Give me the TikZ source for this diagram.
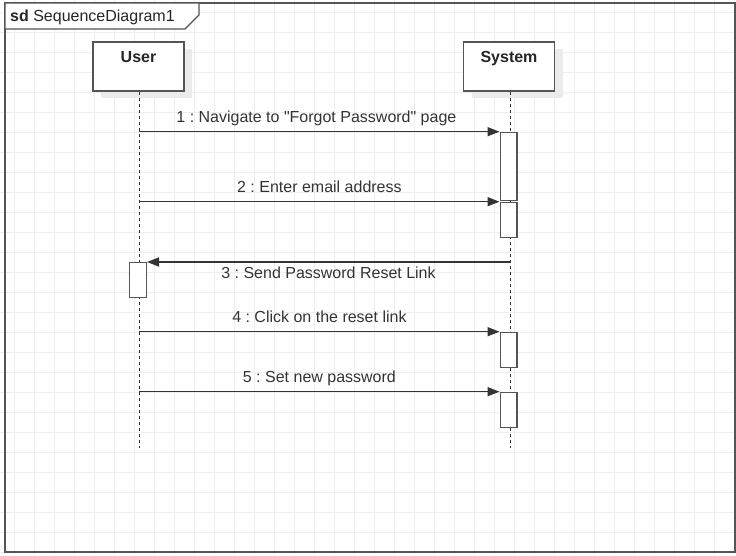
\documentclass[tikz,border=0pt]{standalone}
\usepackage{fontspec}
\setmainfont{Liberation Sans}[Ligatures=TeXOff]
\usetikzlibrary{arrows.meta,shadows}
\frenchspacing
\definecolor{ink}{HTML}{333333}
\definecolor{edgec}{HTML}{555555}
\definecolor{gridc}{HTML}{EEEEEE}
\definecolor{shade}{HTML}{EBEBEB}
\tikzset{
  actorbox/.style={draw=edgec, fill=white, line width=1.4pt, minimum width=91pt, minimum height=49pt, inner sep=0pt,
    drop shadow={shadow xshift=8pt, shadow yshift=-7pt, fill=shade, opacity=1}},
  actlabel/.style={anchor=center, yshift=-15pt, font=\fontsize{16}{19}\selectfont\bfseries, text=black!85, text height=11.5pt, text depth=0pt, inner sep=0pt},
  actbar/.style={draw=edgec, fill=white, line width=1.3pt, minimum width=16.7pt, inner sep=0pt, anchor=north},
  lifeline/.style={draw=ink, line width=1pt, dash pattern=on 3pt off 3pt},
  msg/.style={draw=ink, line width=1.5pt, -{Triangle[length=12pt,width=9pt]}},
  msglabel/.style={text=ink, text height=11.5pt, text depth=0pt, inner sep=0pt},
}
\begin{document}
\begin{tikzpicture}[x=1pt,y=-1pt, font=\fontsize{16}{19}\selectfont]
\useasboundingbox (0,0) rectangle (736,555);
% grid
\foreach \i in {0,...,36} \draw[gridc, line width=0.8pt] ({14+20*\i},0) -- ({14+20*\i},555);
\foreach \j in {0,...,27} \draw[gridc, line width=0.8pt] (0,{12.7+20*\j}) -- (736,{12.7+20*\j});
% frame
\draw[edgec, line width=1.5pt] (5,3) rectangle (735,552);
\draw[edgec, line width=1.3pt, fill=white] (5,3) -- (199,3) -- (199,15) -- (185,29) -- (5,29) -- cycle;
\node[anchor=west, text=black!85, text height=11.5pt, text depth=0pt, inner sep=0pt] (title) at (10,16) {\textbf{sd}\ SequenceDiagram1};
% actors
\node[actorbox, label={[actlabel]north:User}] (user) at (138.5,66.5) {};
\node[actorbox, label={[actlabel]north:System}] (sys) at (509,66.5) {};
% lifelines
\coordinate (uend) at (139.3,448);
\coordinate (send) at (510,448);
\draw[lifeline] (user.south -| uend) -- (uend);
\draw[lifeline] (sys.south -| send) -- (send);
% activations
\node[actbar, minimum height=68.3pt] (a1) at (508.5,131.7) {};
\node[actbar, minimum height=35pt] (a2) at (508.5,201.7) {};
\node[actbar, minimum height=34.7pt] (au) at (138,262) {};
\node[actbar, minimum height=35pt] (a4) at (508.5,331.7) {};
\node[actbar, minimum height=35pt] (a5) at (508.5,391.7) {};
% message start points
\coordinate (m1) at (139.3,131.7);
\coordinate (m2) at (139.3,201.7);
\coordinate (m3) at (510,262);
\coordinate (m4) at (139.3,331.7);
\coordinate (m5) at (139.3,391.7);
% messages
\draw[msg] (m1) -- (a1.north west) node[msglabel, midway, yshift=14.5pt, xshift=-3pt] {1 : Navigate to "Forgot Password" page};
\draw[msg] (m2) -- (a2.north west) node[msglabel, midway, yshift=14.5pt] {2 : Enter email address};
\draw[msg] (m3) -- (au.north east) node[msglabel, midway, yshift=-11pt] {3 : Send Password Reset Link};
\draw[msg] (m4) -- (a4.north west) node[msglabel, midway, yshift=14.5pt] {4 : Click on the reset link};
\draw[msg] (m5) -- (a5.north west) node[msglabel, midway, yshift=14.5pt] {5 : Set new password};
\end{tikzpicture}
\end{document}
